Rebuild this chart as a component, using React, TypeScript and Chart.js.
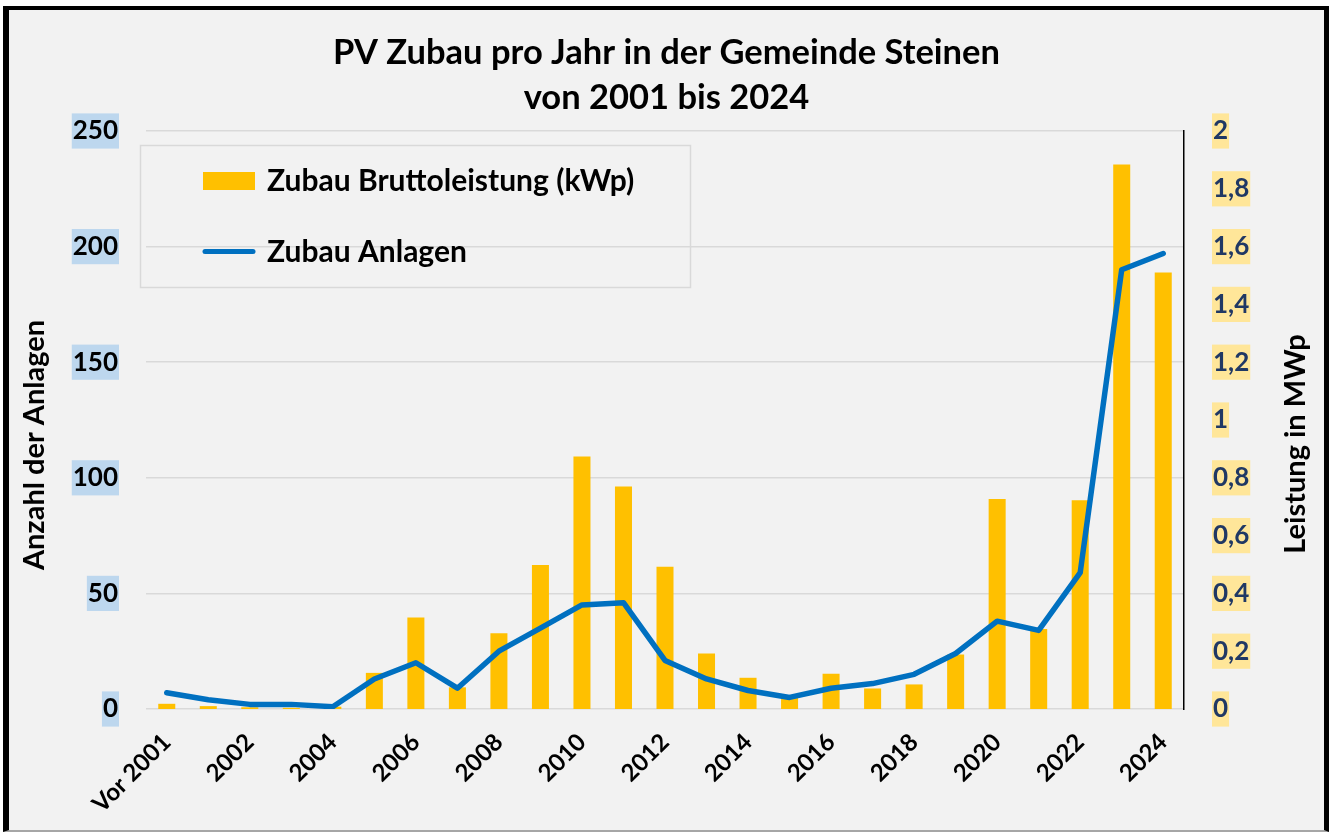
import React, { useEffect, useRef } from 'react';
import { Chart, registerables } from 'chart.js';

Chart.register(...registerables);

// ---------- data ----------
const categories = [
  'Vor 2001', '2001', '2002', '2003', '2004', '2005', '2006', '2007', '2008', '2009',
  '2010', '2011', '2012', '2013', '2014', '2015', '2016', '2017', '2018', '2019',
  '2020', '2021', '2022', '2023', '2024',
];

// Zubau Bruttoleistung, plotted on the right axis (MWp)
const bruttoleistungMWp = [
  0.018, 0.010, 0.006, 0.004, 0.008, 0.125, 0.317, 0.075, 0.262, 0.498,
  0.874, 0.770, 0.492, 0.192, 0.108, 0.044, 0.122, 0.071, 0.085, 0.189,
  0.727, 0.277, 0.722, 1.884, 1.510,
];

// Zubau Anlagen (count), plotted on the left axis
const anlagen = [
  7, 4, 2, 2, 1, 13, 20, 9, 25, 35,
  45, 46, 21, 13, 8, 5, 9, 11, 15, 24,
  38, 34, 59, 190, 197,
];

const titleLines = ['PV Zubau pro Jahr in der Gemeinde Steinen', 'von 2001 bis 2024'];
const leftAxisTitle = 'Anzahl der Anlagen';
const rightAxisTitle = 'Leistung in MWp';
const barLabel = 'Zubau Bruttoleistung (kWp)';
const lineLabel = 'Zubau Anlagen';

// ---------- styles ----------
const FONT = 'Lato';
const BAR_COLOR = '#FFC000';
const LINE_COLOR = '#0070C0';
const GRID_COLOR = '#D9D9D9';

const CANVAS_W = 1315;
const CANVAS_H = 820;

const legendPlugin = {
  id: 'boxLegend',
  afterDraw(chart: any) {
    const { ctx } = chart;
    const bar = chart.data.datasets.find((d: any) => d.type === 'bar');
    const line = chart.data.datasets.find((d: any) => d.type === 'line');
    ctx.save();
    ctx.strokeStyle = GRID_COLOR;
    ctx.lineWidth = 1.5;
    ctx.strokeRect(131.5, 135.5, 550, 142);

    ctx.fillStyle = bar.backgroundColor;
    ctx.fillRect(194, 162, 52, 18);

    ctx.strokeStyle = line.borderColor;
    ctx.lineWidth = 5;
    ctx.lineCap = 'round';
    ctx.beginPath();
    ctx.moveTo(196, 241.5);
    ctx.lineTo(244, 241.5);
    ctx.stroke();

    ctx.fillStyle = '#000';
    ctx.font = `bold 30px ${FONT}`;
    ctx.textAlign = 'left';
    ctx.textBaseline = 'alphabetic';
    ctx.fillText(bar.label, 258, 181);
    ctx.fillText(line.label, 258, 252);
    ctx.restore();
  },
};

const axisTitlePlugin = {
  id: 'axisTitles',
  afterDraw(chart: any) {
    const { ctx } = chart;
    ctx.save();
    ctx.fillStyle = '#000';
    ctx.font = `bold 29px ${FONT}`;
    ctx.textAlign = 'center';
    ctx.textBaseline = 'middle';
    ctx.translate(26, 435);
    ctx.rotate(-Math.PI / 2);
    ctx.fillText(leftAxisTitle, 0, 0);
    ctx.restore();

    ctx.save();
    ctx.fillStyle = '#000';
    ctx.font = `bold 29px ${FONT}`;
    ctx.textAlign = 'center';
    ctx.textBaseline = 'middle';
    ctx.translate(1287, 434);
    ctx.rotate(-Math.PI / 2);
    ctx.fillText(rightAxisTitle, 0, 0);
    ctx.restore();
  },
};

export default function App() {
  const canvasRef = useRef<HTMLCanvasElement | null>(null);

  useEffect(() => {
    document.body.style.margin = '0';
    document.body.style.overflow = 'hidden';
    const canvas = canvasRef.current;
    if (!canvas) return;

    const chart = new Chart(canvas, {
      data: {
        labels: categories,
        datasets: [
          {
            type: 'line',
            label: lineLabel,
            data: anlagen,
            yAxisID: 'y',
            borderColor: LINE_COLOR,
            backgroundColor: LINE_COLOR,
            borderWidth: 5.5,
            borderCapStyle: 'round',
            borderJoinStyle: 'round',
            pointRadius: 0,
            tension: 0,
            order: 0,
          },
          {
            type: 'bar',
            label: barLabel,
            data: bruttoleistungMWp,
            yAxisID: 'y1',
            backgroundColor: BAR_COLOR,
            borderWidth: 0,
            barPercentage: 0.41,
            categoryPercentage: 1,
            order: 1,
          },
        ],
      } as any,
      options: {
        responsive: false,
        animation: false,
        layout: { padding: 0 },
        plugins: {
          legend: { display: false },
          tooltip: { enabled: false },
          title: {
            display: true,
            text: titleLines,
            color: '#000',
            font: { family: FONT, weight: 'bold', size: 34.5, lineHeight: 45 / 34.5 },
            padding: { top: 20, bottom: 11 },
          },
        },
        scales: {
          x: {
            type: 'category',
            offset: true,
            grid: { display: false, drawTicks: false },
            border: { display: false },
            ticks: {
              autoSkip: false,
              maxRotation: 45,
              minRotation: 45,
              padding: 19,
              color: '#000',
              font: { family: FONT, weight: 'bold', size: 24 },
              callback: (_v: any, i: number) => (i % 2 === 0 ? categories[i] : ''),
            },
            afterFit: (s: any) => {
              s.height = 121;
            },
          },
          y: {
            position: 'left',
            min: 0,
            max: 250,
            grid: { color: GRID_COLOR, lineWidth: 1.5, drawTicks: false },
            border: { display: false },
            ticks: {
              stepSize: 50,
              padding: 28,
              color: '#000',
              font: { family: FONT, weight: 'bold', size: 26, lineHeight: 1.2 },
              showLabelBackdrop: true,
              backdropColor: '#BDD7EE',
              backdropPadding: { top: 2, bottom: 2, left: 1, right: 1 },
            },
            afterFit: (s: any) => {
              s.width = 137;
            },
          },
          y1: {
            position: 'right',
            min: 0,
            max: 2,
            grid: { display: false, drawTicks: false },
            border: { display: true, color: '#000', width: 1.5 },
            ticks: {
              stepSize: 0.2,
              padding: 29,
              color: '#203864',
              font: { family: FONT, weight: 'bold', size: 26, lineHeight: 1.2 },
              showLabelBackdrop: true,
              backdropColor: '#FFE699',
              backdropPadding: { top: 2, bottom: 2, left: 1, right: 1 },
              callback: (v: any) => String(Number(Number(v).toFixed(1))).replace('.', ','),
            },
            afterFit: (s: any) => {
              s.width = 140;
            },
          },
        },
      } as any,
      plugins: [legendPlugin, axisTitlePlugin],
    });

    return () => chart.destroy();
  }, []);

  return (
    <div
      style={{
        position: 'fixed',
        left: 3,
        top: 6,
        width: 1326,
        height: 826,
        boxSizing: 'border-box',
        borderLeft: '6px solid #000',
        borderTop: '4px solid #000',
        borderRight: '5px solid #000',
        borderBottom: '2px solid #A6A6A6',
        background: '#F2F2F2',
        overflow: 'hidden',
      }}
    >
      <canvas
        ref={canvasRef}
        width={CANVAS_W}
        height={CANVAS_H}
        style={{ display: 'block', width: CANVAS_W, height: CANVAS_H }}
      />
    </div>
  );
}
